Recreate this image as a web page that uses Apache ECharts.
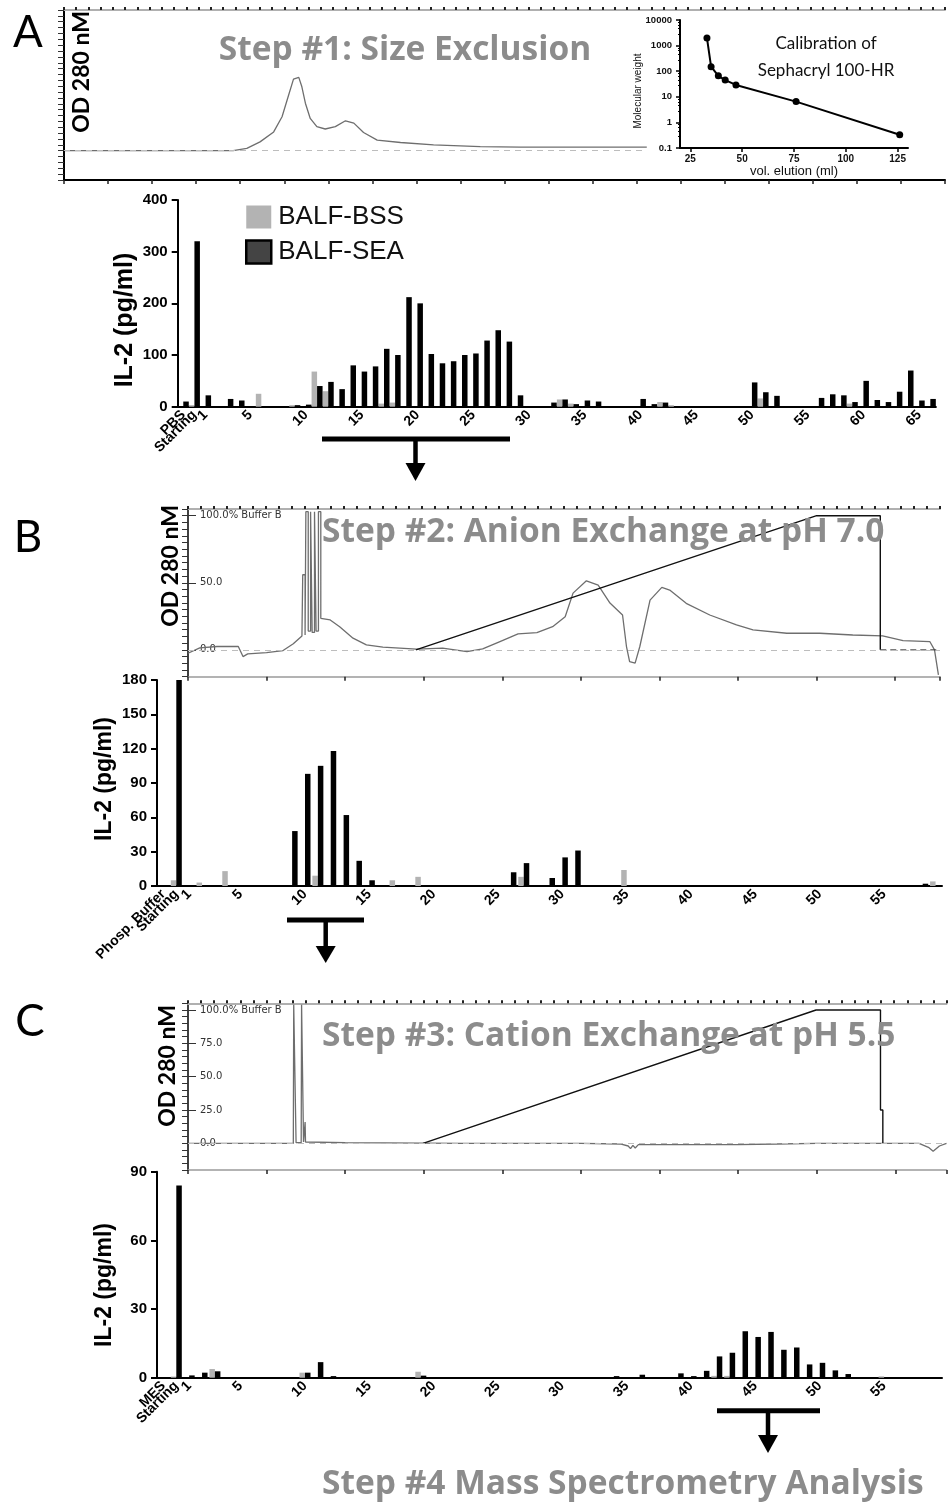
<!DOCTYPE html>
<html><head><meta charset="utf-8">
<script src="https://cdn.jsdelivr.net/npm/echarts@6/dist/echarts.min.js"></script>
<style>html,body{margin:0;padding:0;background:#fff}#c{width:951px;height:1502px}</style>
</head><body><div id="c"></div>
<script>
// ---------- DATA ----------
// Panel A bars: PBS, Starting, fractions 1..66
const catsA = ['PBS', 'Starting'];
for (let i = 1; i <= 66; i++) catsA.push(String(i));
const bssA = [0,3, 0,0,0,0,0,25,0,0,3,0, 68,30,0,0,0,0,6,8,0,0, 0,0,0,0,0,0,0,0,0,0, 0,0,14,6,0,0,0,0,0,0, 0,9,3,0,0,0,0,0,0,0, 16,0,0,0,0,0,0,0,6,0, 0,0,0,0,0,0];
const seaA = [10,320, 22,0,15,12,0,0,0,0,3,4, 40,48,34,80,68,78,112,100,212,200, 102,84,88,100,103,128,148,126,22,0, 0,8,14,5,12,10,0,0,0,15, 5,8,0,0,0,0,0,0,0,47, 28,21,0,0,0,17,24,22,9,50, 13,9,29,70,12,15];

// Panel B bars: Phosp. Buffer, Starting, fractions 1..59
const catsB = ['Phosp. Buffer', 'Starting'];
for (let i = 1; i <= 59; i++) catsB.push(String(i));
const bssB = [0,5, 0,3,0,13,0,0,0,0,0,0, 9,0,0,0,0,0,5,0,8,0, 0,0,0,0,0,0,8,0,0,0, 0,0,0,0,14,0,0,0,0,0, 0,0,0,0,0,0,0,0,0,0, 0,0,0,0,0,0,0,0,4];
const seaB = [0,180, 0,0,0,0,0,0,0,0,48,98, 105,118,62,22,5,0,0,0,0,0, 0,0,0,0,0,12,20,0,7,25, 31,0,0,0,0,0,0,0,0,0, 0,0,0,0,0,0,0,0,0,0, 0,0,0,0,0,0,0,2,0];

// Panel C bars: MES, Starting, fractions 1..59
const catsC = ['MES', 'Starting'];
for (let i = 1; i <= 59; i++) catsC.push(String(i));
const bssC = [0,0.5, 0,0,3.8,0,0,0,0,0,0,2.2, 0,0,0,0,0,0,0,0,2.6,0, 0,0,0,0,0,0,0,0,0,0, 0,0,0,0,0,0,0,0,0,0, 0,0.8,0.8,0,0,0,0,0,0,0, 0,0,0,0,0.6,0,0,0,0];
const seaC = [0,84, 1,2.2,2.8,0,0,0,0,0,0,2.2, 6.8,0.7,0,0,0,0,0,0,0.9,0, 0,0,0,0,0,0,0,0,0,0, 0,0,0,0.7,0,1.3,0,0,1.9,0.7, 3,9.3,10.9,20.3,17.8,20,12.2,13.2,5.8,6.5, 3.2,1.6,0,0,0,0,0,0,0];

// Chromatogram traces [volume (arb.), absorbance (arb.)]
const chromA = [[0.2,0],[38.4,0],[41.5,0.4],[44.5,1.5],[47.6,3.2],[49.5,5.8],[51,9.5],[52.1,12.2],[53.3,12.5],[54,10.9],[54.8,8.1],[55.9,5.5],[57.4,4.1],[59.3,3.7],[61.6,4.1],[63.9,5.1],[65.8,4.7],[68,3.1],[71.1,1.8],[76.4,1.4],[83.9,1.0],[94.5,0.7],[103.6,0.6],[132.3,0.6]];
const chromB = [[0,-2.5],[1.5,1.5],[3.7,2.5],[6.4,2.5],[7.0,-5],[7.6,-3],[10,-2],[12.1,-0.5],[13.4,4.5],[14.5,10.4],
  [14.6,10.4],[14.6,56],[14.9,56],[14.9,11],[15.0,11],[15.0,103],[15.3,103],[15.3,14],[15.6,14],[15.6,103],[15.8,103],[15.8,13],[16.1,13],[16.1,103],[16.3,103],[16.3,14],[16.6,14],[16.6,103],[16.9,103],[16.9,23.5],
  [18.1,22.3],[19.3,17.3],[21,8.7],[22.7,3.7],[24.8,2],[29.1,0.5],[32.4,1.3],[35.5,-1.3],[37.5,0.7],[39.7,6.2],[42,11.9],[44.4,12.9],[46.4,17.3],[48,24.7],[49,42.3],[50.7,51.5],[52.2,48.3],[53.7,34.9],[55.3,26],[55.8,2.5],[56.2,-8.7],[56.9,-9.9],[57.5,2.5],[58.8,37.1],[60.3,46.6],[61.3,44.6],[63.4,34.7],[66.4,26],[69.8,18.6],[71.9,14.9],[76.2,12.4],[80.4,12.4],[84.6,11.1],[88.4,10.4],[91,6.9],[94.4,6.2],[95,0],[95.5,-18.6]];
const gradB = [[29,0],[80,100],[88.1,100],[88.1,0]];
const gradBTail = [[88.1,0],[95.7,0]];
const chromC = [[0,0],[13.4,0],[13.45,104],[13.7,104],[13.75,0.5],[14.4,0.5],[14.45,104],[14.65,104],[14.7,1],[14.85,1],[14.9,16],[14.95,1],[20,0.5],[35,0],[50,0],[55,-0.5],[56,-2],[56.3,-4],[56.6,-1.5],[56.9,-3.5],[57.3,-1],[60,-1],[70,-1],[75,-0.5],[80,0],[90,0],[93,0],[94.2,-3],[94.8,-6],[95.6,-2],[96.5,0]];
const gradC = [[29.9,0],[79.9,100],[88.1,100],[88.1,25],[88.4,25],[88.4,0]];

// Calibration inset
const calVol = [33, 35, 38.5, 41.8, 47, 76, 126];
const calMW = [2000, 150, 66, 45, 29, 6.5, 0.33];

// ---------- CHART ----------
const BAR = 'Liberation Sans';
const GRAYBAR = '#b3b3b3';
const catFmt = (v, i) => (i < 3 || (+v) % 5 === 0) ? v : '';

function barX(grid, cats) {
  return { gridIndex: grid, type: 'category', data: cats,
    axisLine: { lineStyle: { color: '#000', width: 2 } },
    axisTick: { alignWithLabel: true, interval: 0, length: 6, lineStyle: { color: '#000', width: 2 } },
    axisLabel: { interval: 0, rotate: 45, formatter: catFmt, fontFamily: BAR, fontWeight: 'bold', fontSize: 14, color: '#000', margin: 6 },
    splitLine: { show: false } };
}
function barY(grid, max, interval) {
  return { gridIndex: grid, type: 'value', min: 0, max: max, interval: interval,
    axisLine: { show: true, lineStyle: { color: '#000', width: 2 } },
    axisTick: { show: true, length: 6, lineStyle: { color: '#000', width: 2 } },
    axisLabel: { fontFamily: BAR, fontWeight: 'bold', fontSize: 15, color: '#000', margin: 10 },
    splitLine: { show: false } };
}
function chromBottom(grid, max, lineColor, lw) {
  return { gridIndex: grid, type: 'value', position: 'bottom', min: 0, max: max, interval: 10,
    axisLine: { onZero: false, lineStyle: { color: lineColor, width: lw } },
    axisTick: { length: 4, lineStyle: { color: '#222', width: 1.5 } },
    axisLabel: { show: false }, splitLine: { show: false } };
}
function chromTop(grid, max) {
  return { gridIndex: grid, type: 'value', position: 'top', min: 0, max: max, interval: 1,
    axisLine: { onZero: false, lineStyle: { color: '#b0b0b0', width: 2 } },
    axisTick: { length: 3, lineStyle: { color: '#222', width: 2 } },
    axisLabel: { show: false }, splitLine: { show: false } };
}
function chromLeft(grid, min, max, interval, lw) {
  return { gridIndex: grid, type: 'value', position: 'left', min: min, max: max, interval: interval,
    axisLine: { show: true, onZero: false, lineStyle: { color: '#000', width: lw } },
    axisTick: { show: true, length: 6, lineStyle: { color: '#333', width: 1 } },
    axisLabel: { show: false }, splitLine: { show: false } };
}
function chromInside(grid, vals, fmt) {
  return { gridIndex: grid, type: 'value', position: 'left', offset: 0, min: -20, max: 105,
    axisLine: { show: false, onZero: false },
    axisTick: { show: true, inside: true, length: 8, customValues: vals, lineStyle: { color: '#333', width: 1 } },
    axisLabel: { show: true, inside: true, customValues: vals, margin: 12, formatter: fmt, fontFamily: 'DejaVu Sans', fontSize: 10, color: '#333' },
    splitLine: { show: false } };
}
const pctFmt = v => v === 100 ? '100.0% Buffer B' : v.toFixed(1);

const traceStyle = { color: '#6e6e6e', width: 1.3 };
const dashLine = { type: [6, 5], color: '#bdbdbd', width: 1 };

function txt(x, y, text, font, fill, rot, align) {
  return { type: 'text', x: x, y: y, rotation: rot || 0, z: 100,
    style: { text: text, font: font, fill: fill, align: align || 'center', verticalAlign: 'middle' } };
}
function ln(x1, y1, x2, y2, w) {
  return { type: 'line', z: 100, shape: { x1: x1, y1: y1, x2: x2, y2: y2 }, style: { stroke: '#000', lineWidth: w } };
}
function tri(cx, yb, yt, hw) {
  return { type: 'polygon', z: 100, shape: { points: [[cx - hw, yb], [cx + hw, yb], [cx, yt]] }, style: { fill: '#000' } };
}
const TITLE = '#8c8c8c';
const TFONT = 'bold 33.5px "Open Sans"';
const R90 = Math.PI / 2;

const option = {
  animation: false,
  backgroundColor: '#fff',
  grid: [
    { left: 64, top: 10, width: 881, height: 170 },          // 0 chrom A
    { left: 680, top: 20, width: 228, height: 128 },         // 1 inset
    { left: 177.7, top: 200, width: 758.2, height: 206.7 },  // 2 bars A
    { left: 188, top: 509, width: 752, height: 167.7 },      // 3 chrom B
    { left: 157, top: 680, width: 785, height: 206 },        // 4 bars B
    { left: 188, top: 1003.3, width: 758.5, height: 166.7 }, // 5 chrom C
    { left: 157, top: 1171.7, width: 785, height: 206 }      // 6 bars C
  ],
  legend: {
    left: 240, top: 199, orient: 'vertical', icon: 'rect',
    itemWidth: 25, itemHeight: 23, itemGap: 9,
    textStyle: { fontFamily: BAR, fontSize: 26, color: '#111', padding: [0, 0, 0, 2] },
    data: [
      { name: 'BALF-BSS', itemStyle: { color: GRAYBAR } },
      { name: 'BALF-SEA', itemStyle: { color: '#444', borderColor: '#000', borderWidth: 2.5 } }
    ]
  },
  xAxis: [
    chromBottom(0, 200, '#000', 2),          // 0
    chromTop(0, 72),                          // 1
    { gridIndex: 1, type: 'value', min: 20, max: 130,   // 2 inset
      axisLine: { onZero: false, lineStyle: { color: '#000', width: 2 } },
      axisTick: { customValues: [25, 50, 75, 100, 125], length: 4, lineStyle: { color: '#000', width: 1.5 } },
      axisLabel: { customValues: [25, 50, 75, 100, 125], fontFamily: BAR, fontWeight: 'bold', fontSize: 10, color: '#111', margin: 6 },
      splitLine: { show: false } },
    barX(2, catsA),                           // 3
    chromBottom(3, 95.7, '#9a9a9a', 1.5),     // 4
    chromTop(3, 58),                          // 5
    barX(4, catsB),                           // 6
    chromBottom(5, 96.5, '#9a9a9a', 1.5),     // 7
    chromTop(5, 58),                          // 8
    barX(6, catsC)                            // 9
  ],
  yAxis: [
    chromLeft(0, -5, 24, 1, 2),               // 0
    { gridIndex: 1, type: 'log', logBase: 10, min: 0.1, max: 10000,   // 1 inset
      axisLine: { show: true, onZero: false, lineStyle: { color: '#000', width: 2 } },
      axisTick: { show: true, length: 4, lineStyle: { color: '#000', width: 1.5 } },
      minorTick: { show: true, splitNumber: 5, length: 2, lineStyle: { color: '#000' } },
      axisLabel: { fontFamily: BAR, fontWeight: 'bold', fontSize: 9.5, color: '#111', margin: 8,
        formatter: v => String(v) },
      splitLine: { show: false } },
    barY(2, 400, 100),                        // 2
    chromLeft(3, -20, 105, 5, 1.5),           // 3
    chromInside(3, [0, 50, 100], pctFmt),     // 4
    barY(4, 180, 30),                         // 5
    chromLeft(5, -20, 105, 5, 1.5),           // 6
    chromInside(5, [0, 25, 50, 75, 100], pctFmt), // 7
    barY(6, 90, 30)                           // 8
  ],
  series: [
    { type: 'line', xAxisIndex: 0, yAxisIndex: 0, data: chromA, symbol: 'none', lineStyle: traceStyle, z: 3,
      markLine: { silent: true, symbol: 'none', label: { show: false }, lineStyle: dashLine,
        data: [[{ coord: [0, 0] }, { coord: [132.3, 0] }]] } },
    { type: 'line', xAxisIndex: 2, yAxisIndex: 1, data: calVol.map((v, i) => [v, calMW[i]]),
      symbol: 'circle', symbolSize: 7, itemStyle: { color: '#000' }, lineStyle: { color: '#000', width: 2 } },

    { name: 'BALF-BSS', type: 'bar', xAxisIndex: 3, yAxisIndex: 2, data: bssA, barWidth: 5.5, barGap: '0%', itemStyle: { color: GRAYBAR } },
    { name: 'BALF-SEA', type: 'bar', xAxisIndex: 3, yAxisIndex: 2, data: seaA, barWidth: 5.5, barGap: '0%', itemStyle: { color: '#000' } },

    { type: 'line', xAxisIndex: 4, yAxisIndex: 3, data: chromB, symbol: 'none', lineStyle: traceStyle, z: 3,
      markLine: { silent: true, symbol: 'none', label: { show: false }, lineStyle: dashLine, data: [{ yAxis: 0 }] } },
    { type: 'line', xAxisIndex: 4, yAxisIndex: 3, data: gradB, symbol: 'none', lineStyle: { color: '#111', width: 1.4 }, z: 4 },
    { type: 'line', xAxisIndex: 4, yAxisIndex: 3, data: gradBTail, symbol: 'none', lineStyle: { color: '#333', width: 1, type: [6, 4] }, z: 4 },

    { name: 'BALF-BSS', type: 'bar', xAxisIndex: 6, yAxisIndex: 5, data: bssB, barWidth: 5.5, barGap: '0%', itemStyle: { color: GRAYBAR } },
    { name: 'BALF-SEA', type: 'bar', xAxisIndex: 6, yAxisIndex: 5, data: seaB, barWidth: 5.5, barGap: '0%', itemStyle: { color: '#000' } },

    { type: 'line', xAxisIndex: 7, yAxisIndex: 6, data: chromC, symbol: 'none', lineStyle: traceStyle, z: 3,
      markLine: { silent: true, symbol: 'none', label: { show: false }, lineStyle: dashLine, data: [{ yAxis: 0 }] } },
    { type: 'line', xAxisIndex: 7, yAxisIndex: 6, data: gradC, symbol: 'none', lineStyle: { color: '#111', width: 1.4 }, z: 4 },

    { name: 'BALF-BSS', type: 'bar', xAxisIndex: 9, yAxisIndex: 8, data: bssC, barWidth: 5.5, barGap: '0%', itemStyle: { color: GRAYBAR } },
    { name: 'BALF-SEA', type: 'bar', xAxisIndex: 9, yAxisIndex: 8, data: seaC, barWidth: 5.5, barGap: '0%', itemStyle: { color: '#000' } }
  ],
  graphic: [
    txt(28, 33, 'A', '44px Lato', '#000'),
    txt(28, 538, 'B', '44px Lato', '#000'),
    txt(30, 1022, 'C', '44px Lato', '#000'),
    txt(405, 50, 'Step #1: Size Exclusion', TFONT, TITLE),
    txt(322, 532, 'Step #2: Anion Exchange at pH 7.0', TFONT, TITLE, 0, 'left'),
    txt(322, 1036, 'Step #3: Cation Exchange at pH 5.5', TFONT, TITLE, 0, 'left'),
    txt(322, 1484, 'Step #4 Mass Spectrometry Analysis', TFONT, TITLE, 0, 'left'),
    txt(82, 72, 'OD 280 nM', 'bold 23px Lato', '#000', R90),
    txt(171, 566, 'OD 280 nM', 'bold 23px Lato', '#000', R90),
    txt(168, 1066, 'OD 280 nM', 'bold 23px Lato', '#000', R90),
    txt(125, 320, 'IL-2 (pg/ml)', 'bold 25px "Liberation Sans"', '#000', R90),
    txt(105, 779, 'IL-2 (pg/ml)', 'bold 23px "Liberation Sans"', '#000', R90),
    txt(105, 1285, 'IL-2 (pg/ml)', 'bold 23px "Liberation Sans"', '#000', R90),
    txt(826, 44, 'Calibration of', '17px Lato', '#111'),
    txt(826, 71, 'Sephacryl 100-HR', '17px Lato', '#111'),
    txt(638, 91, 'Molecular weight', '10px "Liberation Sans"', '#111', R90),
    txt(794, 171.5, 'vol. elution (ml)', '13px "Liberation Sans"', '#111'),
    ln(322, 439, 510, 439, 5), ln(415.5, 439, 415.5, 466, 4.5), tri(415.5, 463, 481, 10),
    ln(287, 920, 364, 920, 5), ln(325.7, 920, 325.7, 949, 4.5), tri(325.7, 946, 963, 10),
    ln(717, 1410.7, 820, 1410.7, 5), ln(768, 1410.7, 768, 1438, 4.5), tri(768, 1435, 1453, 10)
  ]
};
const chart = echarts.init(document.getElementById('c'), null, { renderer: 'canvas' });
chart.setOption(option);
</script></body></html>
